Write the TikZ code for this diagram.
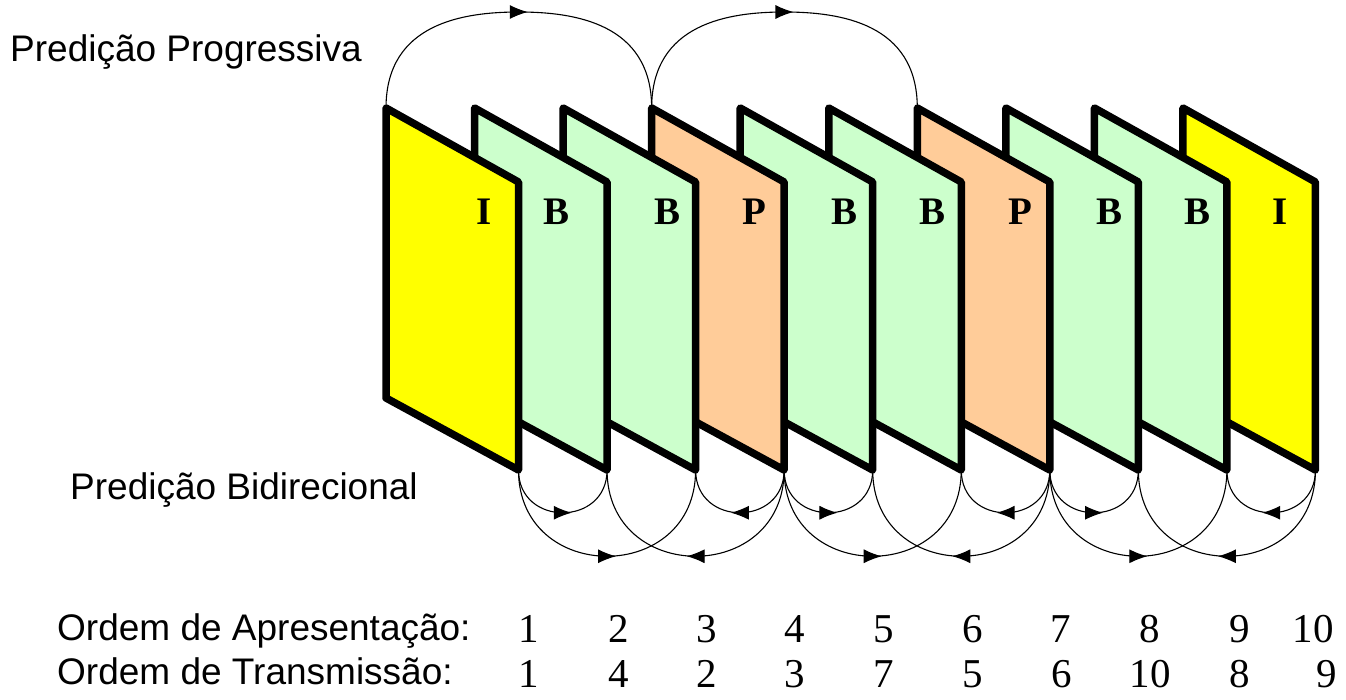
\documentclass[tikz,border=0pt]{standalone}
\usepackage{fontspec}
\setmainfont{Liberation Serif}
\setsansfont{Liberation Sans}
\usetikzlibrary{arrows.meta,decorations.markings,calc}
\definecolor{iyel}{RGB}{255,255,0}
\definecolor{bgrn}{RGB}{204,255,204}
\definecolor{porg}{RGB}{255,204,153}
\begin{document}
\begin{tikzpicture}[x=1pt,y=-1pt,
  framebox/.style={draw=black,line width=7.5pt,line join=round},
  flabel/.style={font=\fontsize{39}{44}\selectfont\bfseries,anchor=base,inner sep=0pt},
  numlbl/.style={font=\fontsize{41}{46}\selectfont,anchor=base,inner sep=0pt},
  sidetext/.style={font=\sffamily\fontsize{37}{42}\selectfont,anchor=base west,inner sep=0pt},
  predarc/.style={draw=black,line width=1.1pt},
  midarrow/.style={postaction={decorate},decoration={markings,
     mark=at position 0.5 with {\arrow[xshift=9pt]{Latex[length=18pt,width=14pt]}}}}
]
\useasboundingbox (0,0) rectangle (1346,699);
% frames, back to front
\foreach \i/\c in {10/iyel,9/bgrn,8/bgrn,7/porg,6/bgrn,5/bgrn,4/porg,3/bgrn,2/bgrn,1/iyel}{
  \pgfmathsetmacro{\L}{386+88.55*(\i-1)}
  \pgfmathsetmacro{\R}{\L+132.5}
  \coordinate (tl\i) at (\L,108);
  \coordinate (tr\i) at (\R,182);
  \coordinate (br\i) at (\R,470);
  \coordinate (bl\i) at (\L,398);
  \draw[framebox,fill=\c] (tl\i) -- (tr\i) -- (br\i) -- (bl\i) -- cycle;
}
% frame labels
\node[flabel] (f1) at (484,224) {I};
\node[flabel] (f2) at (556,224) {B};
\node[flabel] (f3) at (667,224) {B};
\node[flabel] (f4) at (754,224) {P};
\node[flabel] (f5) at (844,224) {B};
\node[flabel] (f6) at (932,224) {B};
\node[flabel] (f7) at (1020,224) {P};
\node[flabel] (f8) at (1109,224) {B};
\node[flabel] (f9) at (1197,224) {B};
\node[flabel] (f10) at (1280,224) {I};
% forward prediction arcs
\coordinate (top1) at ($(tl1)!0.5!(tl4)+(0,-96)$);
\coordinate (top2) at ($(tl4)!0.5!(tl7)+(0,-96)$);
\draw[predarc,midarrow] (tl1) .. controls +(0,-85) and +(-55,0) .. (top1)
      .. controls +(55,0) and +(0,-85) .. (tl4);
\draw[predarc,midarrow] (tl4) .. controls +(0,-85) and +(-55,0) .. (top2)
      .. controls +(55,0) and +(0,-85) .. (tl7);
% bidirectional prediction arcs (short)
\foreach \a/\b in {1/2,4/3,4/5,7/6,7/8,10/9}{
  \draw[predarc,midarrow] (br\a) .. controls +(0,57) and +(0,57) .. (br\b);
}
% long
\foreach \a/\b in {1/3,4/2,4/6,7/5,7/9,10/8}{
  \draw[predarc,midarrow] (br\a) .. controls +(0,115) and +(0,115) .. (br\b);
}
% side texts
\node[sidetext] (tprog) at (10,61) {Predição Progressiva};
\node[sidetext] (tbid) at (70,499) {Predição Bidirecional};
\node[sidetext] (tapr) at (57,640) {Ordem de Apresentação:};
\node[sidetext] (ttra) at (57,684) {Ordem de Transmissão:};
% numbers
\foreach \x/\n [count=\k] in {529/1,619/2,707/3,795/4,884/5,973/6,1061/7,1150/8,1240/9,1313/10}{
  \node[numlbl] (a\k) at (\x,642) {\n};
}
\foreach \x/\n [count=\k] in {529/1,619/4,707/2,795/3,884/7,973/5,1062/6,1150/10,1240/8,1327/9}{
  \node[numlbl] (t\k) at (\x,687) {\n};
}
\end{tikzpicture}
\end{document}
